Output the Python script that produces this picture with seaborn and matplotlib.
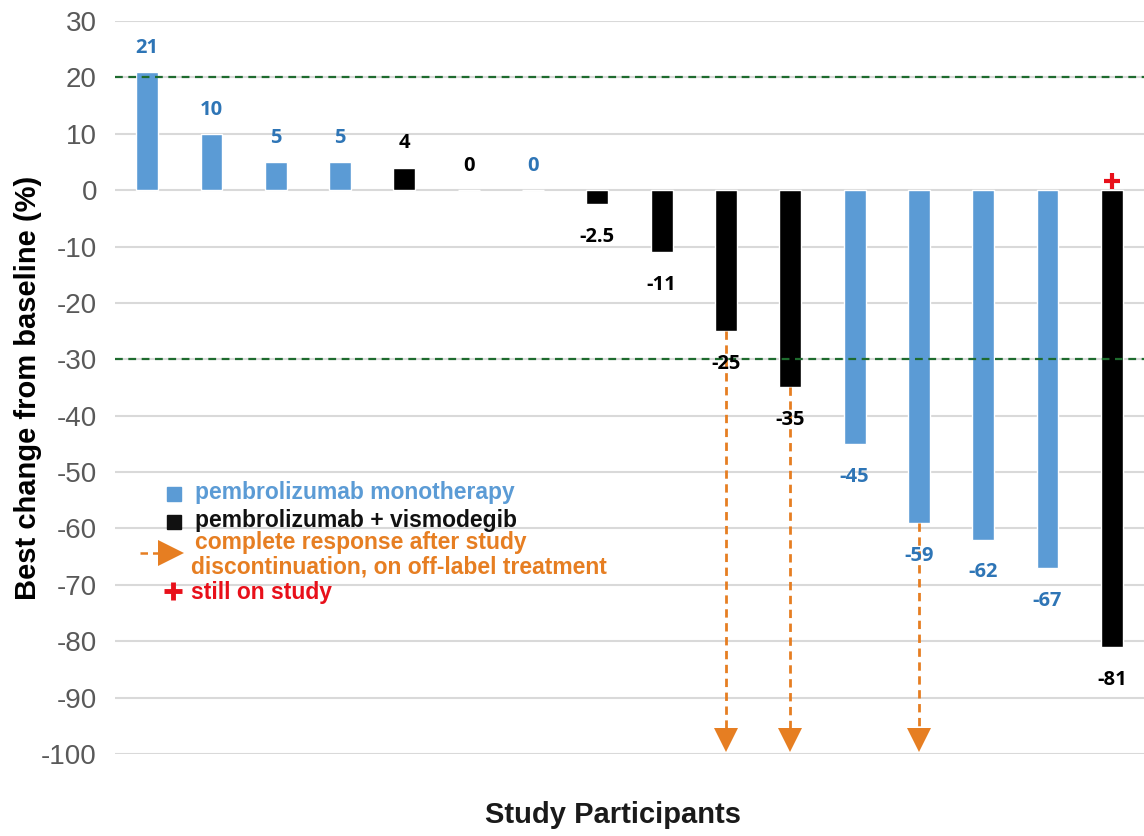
import matplotlib
matplotlib.use("Agg")
import matplotlib.pyplot as plt
import seaborn as sns
import pandas as pd

# ---- data ----
participants = [f"P{i+1}" for i in range(16)]
values = [21, 10, 5, 5, 4, 0, 0, -2.5, -11, -25, -35, -45, -59, -62, -67, -81]
labels = ["21", "10", "5", "5", "4", "0", "0", "-2.5", "-11", "-25", "-35", "-45", "-59", "-62", "-67", "-81"]
groups = ["mono", "mono", "mono", "mono", "combo", "combo", "mono", "combo", "combo",
          "combo", "combo", "mono", "mono", "mono", "mono", "combo"]
arrow_participants = ["P10", "P11", "P13"]
still_on_study = ["P16"]
yticks = list(range(-100, 31, 10))
thresholds = [20, -30]

BLUE = "#5B9BD5"
BLUE_TXT = "#2E75B6"
BLACK = "#000000"
ORANGE = "#E67E22"
RED = "#E8101A"
GREEN = "#1E6B2E"

sns.set_theme(style="white")
plt.rcParams["font.family"] = ["Liberation Sans", "DejaVu Sans"]

df = pd.DataFrame({"participant": participants, "value": values, "group": groups})

fig = plt.figure(figsize=(11.44, 8.36), dpi=100)
ax = fig.add_axes([115 / 1144, 1 - 754 / 836, 1 - 115 / 1144, (754 - 21) / 836])

sns.barplot(data=df, x="participant", y="value", hue="group",
            palette={"mono": BLUE, "combo": BLACK}, dodge=False, width=0.34,
            legend=False, ax=ax, saturation=1, zorder=3)

ax.set_ylim(-100, 30)
ax.set_xlim(-0.5, 15.5)
ax.set_yticks(yticks)
ax.set_yticklabels([str(t) for t in yticks], fontsize=20, color="#595959")
ax.tick_params(axis="y", length=0, pad=13)
ax.set_xticks([])
for s in ax.spines.values():
    s.set_visible(False)
for t in yticks:
    ax.axhline(t, color="#D9D9D9", lw=1.5, zorder=0)
for t in thresholds:
    ax.axhline(t, color=GREEN, lw=1.6, ls=(0, (3.5, 2.5)), zorder=4)

# arrows (start at bar end, go down to the bottom)
for p in arrow_participants:
    i = participants.index(p)
    ax.plot([i, i], [values[i], -96], color=ORANGE, lw=2, ls=(0, (3, 2)), zorder=5)
    ax.plot([i], [-97.6], marker="v", color=ORANGE, markersize=17, clip_on=False, zorder=6,
            markeredgewidth=0)

# value labels
for i, (v, lab, g) in enumerate(zip(values, labels, groups)):
    col = BLUE_TXT if g == "mono" else BLACK
    y = v + 4.3 if v >= 0 else v - 5.8
    ax.text(i, y, lab, ha="center", va="center", fontsize=14.5, fontweight="bold",
            color=col, family=["Open Sans", "DejaVu Sans"], zorder=7)

# still on study
for p in still_on_study:
    i = participants.index(p)
    ax.plot([i], [1.6], marker="+", color=RED, markersize=11, mew=3, zorder=6, clip_on=False)

ax.set_ylabel("Best change from baseline (%)", fontsize=21, fontweight="bold", color="black")
ax.yaxis.set_label_coords((42 - 115) / 1029, 0.5)
ax.set_xlabel("")
fig.text(613 / 1144, 1 - 815 / 836, "Study Participants", ha="center", va="center",
         fontsize=21, fontweight="bold", color="#1a1a1a")

# legend drawn manually
def fx(x):
    return x / 1144
def fy(y):
    return 1 - y / 836

fs = 16.5
fig.text(fx(195), fy(493), "pembrolizumab monotherapy", color=BLUE, fontsize=fs, fontweight="bold", va="center")
fig.lines.append(plt.Line2D([fx(174)], [fy(494)], marker="s", color=BLUE, markersize=10,
                            transform=fig.transFigure, linestyle="none"))
fig.text(fx(195), fy(520), "pembrolizumab + vismodegib", color="#111111", fontsize=fs, fontweight="bold", va="center")
fig.lines.append(plt.Line2D([fx(174)], [fy(522)], marker="s", color="#111111", markersize=10,
                            transform=fig.transFigure, linestyle="none"))
fig.text(fx(195), fy(543), "complete response after study", color=ORANGE, fontsize=fs, fontweight="bold", va="center")
fig.text(fx(191), fy(567), "discontinuation, on off-label treatment", color=ORANGE, fontsize=fs, fontweight="bold", va="center")
fig.lines.append(plt.Line2D([fx(140), fx(159)], [fy(553), fy(553)], color=ORANGE, lw=1.8,
                            ls=(0, (3, 2)), transform=fig.transFigure))
fig.lines.append(plt.Line2D([fx(171)], [fy(553)], marker=">", color=ORANGE, markersize=19,
                            markeredgewidth=0, transform=fig.transFigure, linestyle="none"))
fig.text(fx(191), fy(592), "still on study", color=RED, fontsize=fs, fontweight="bold", va="center")
fig.lines.append(plt.Line2D([fx(173)], [fy(591)], marker="+", color=RED, markersize=13, mew=3.5,
                            transform=fig.transFigure, linestyle="none"))

fig.savefig("out.png", dpi=100)
